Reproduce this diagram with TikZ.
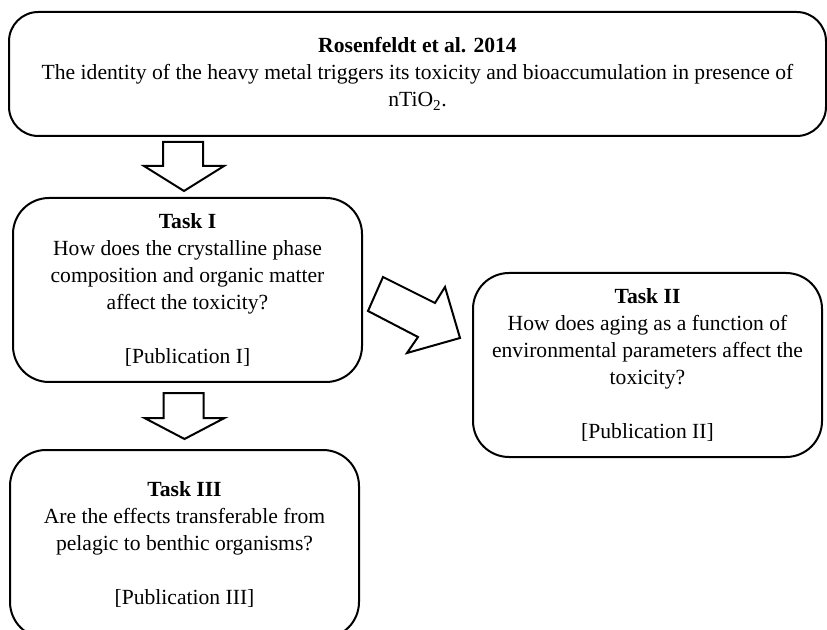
\documentclass[tikz,border=0pt]{standalone}
\usepackage{fontspec}
\setmainfont{Liberation Serif}
\begin{document}
\begin{tikzpicture}[x=0.75pt,y=-0.75pt,
  box/.style={draw, line width=1.5pt, align=center, inner sep=0pt,
    font=\fontsize{16.2}{20.25}\selectfont},
  blockarrow/.style={draw, line width=1.5pt, fill=white, line join=miter}]
\useasboundingbox (0,0) rectangle (827,630);
\node[box, rounded corners=22, minimum width=817*0.75pt, minimum height=124*0.75pt] (top) at (417.5,74)
  {\textbf{Rosenfeldt et al. 2014}\\
   The identity of the heavy metal triggers its toxicity and bioaccumulation in presence of\\
   nTiO\textsubscript{2}.};
\node[box, rounded corners=27, minimum width=349*0.75pt, minimum height=184*0.75pt] (t1) at (187.5,290)
  {\textbf{Task I}\\
   How does the crystalline phase\\
   composition and organic matter\\
   affect the toxicity?\\[20.25pt]
   [Publication I]};
\node[box, rounded corners=27, minimum width=349*0.75pt, minimum height=184*0.75pt] (t2) at (647.5,365)
  {\textbf{Task II}\\
   How does aging as a function of\\
   environmental parameters affect the\\
   toxicity?\\[20.25pt]
   [Publication II]};
\node[box, rounded corners=27, minimum width=349*0.75pt, minimum height=188*0.75pt] (t3) at (184.5,544)
  {\textbf{Task III}\\
   Are the effects transferable from\\
   pelagic to benthic organisms?\\[20.25pt]
   [Publication III]};
% down arrow top -> task I
\draw[blockarrow, shift={(t1.north)}] (-24.5,-55) -- (15.5,-55) -- (15.5,-31) -- (36.5,-31) -- (-3.5,-6) -- (-43.5,-31) -- (-24.5,-31) -- cycle;
% down arrow task I -> task III
\draw[blockarrow, shift={(t1.south)}] (-24,10) -- (16,10) -- (16,35) -- (37,35) -- (-3,56) -- (-43,35) -- (-24,35) -- cycle;
% diagonal arrow task I -> task II
\draw[blockarrow] (368,311) -- (383,277) -- (435,303) -- (445,287) -- (460,338) -- (407,353) -- (418,337) -- cycle;
\end{tikzpicture}
\end{document}
